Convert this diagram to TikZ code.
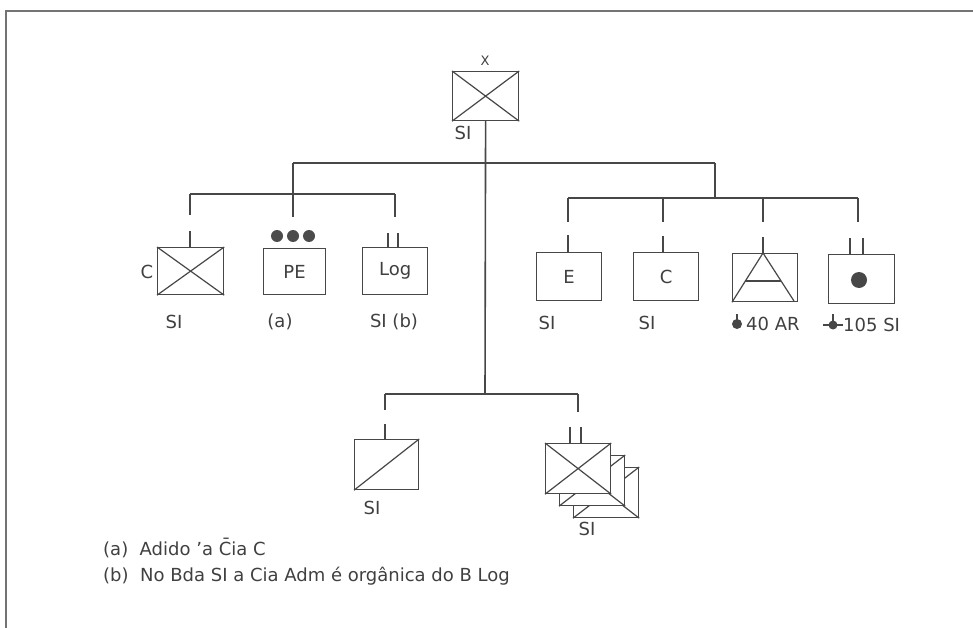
\documentclass[tikz,border=0pt]{standalone}
\usepackage{fontspec}
\setmainfont{DejaVu Sans}
\begin{document}
\begin{tikzpicture}[x=1pt,y=-1pt,
  ln/.style={draw=black!72,line width=1.2pt},
  unit/.style={ln,fill=white,minimum width=65pt,minimum height=48pt,inner sep=0pt,anchor=north west},
  lbl/.style={text=black!75,font=\fontsize{18}{21}\selectfont,inner sep=0pt},
  small/.style={text=black!75,font=\fontsize{13}{15}\selectfont,inner sep=0pt}]
\useasboundingbox (0,0) rectangle (973,628);
% frame
\draw[ln,draw=black!55] (6,628) -- (6,11) -- (973,11);

% top unit
\node[unit,minimum width=66pt,minimum height=49pt] (X) at (452,71) {};
\draw[ln] (X.north west) -- (X.south east) (X.north east) -- (X.south west);
\node[small] (Xl) at (485,61) {X};
\node[lbl] (Xs) at (463,133) {SI};

% coordinates of bars
\coordinate (bl) at (293,163);
\coordinate (br) at (715,163);
\coordinate (lbL) at (190,194);
\coordinate (lbR) at (395,194);
\coordinate (rb) at (715,198);
\coordinate (rbL) at (568,198);
\coordinate (rbR) at (858,198);
\coordinate (bb) at (485,394);
\coordinate (bbL) at (385,394);
\coordinate (bbR) at (578,394);

\draw[ln,line width=1.6pt] (X.south) -- (bb);
\draw[ln] (bl) -- (br);
\draw[ln] (bl) -- (293,217);
\draw[ln] (lbL) -- (lbR);
\draw[ln] (lbL) -- (190,215);
\draw[ln] (lbR) -- (395,217);
\draw[ln] (br) -- (rb);
\draw[ln] (rbL) -- (rbR);
\draw[ln] (rbL) -- (568,222);
\draw[ln] (663,198) -- (663,222);
\draw[ln] (763,198) -- (763,222);
\draw[ln] (rbR) -- (858,222);
\draw[ln] (bbL) -- (bbR);
\draw[ln,line width=2pt] (bbL) -- (385,410);
\draw[ln] (bbR) -- (578,412);

% left group
\node[unit,minimum width=66pt,minimum height=47pt] (C1) at (157,247) {};
\draw[ln] (C1.north west) -- (C1.south east) (C1.north east) -- (C1.south west);
\draw[ln] (190,231) -- (190,247);
\node[lbl] (C1c) at (147,272) {C};
\node[lbl] (C1s) at (174,322) {SI};

\node[unit,minimum width=62pt,minimum height=46pt] (PE) at (263,248) {};
\node[lbl] (PEt) at (PE.center) {PE};
\foreach \i/\xx in {1/277,2/293,3/309}
  \fill[black!70] (\xx,236) circle (6pt);
\node[lbl] (PEa) at (280,322) {(a)};

\node[unit,minimum width=65pt,minimum height=47pt] (LG) at (362,247) {};
\node[lbl] (LGt) at (LG.center) {Log};
\draw[ln] (388,233) -- (388,247) (398,233) -- (398,247);
\node[lbl] (LGs) at (394,322) {SI (b)};

% right group
\node[unit] (E) at (536,252) {};
\node[lbl] (Et) at (E.center) {E};
\draw[ln] (568,235) -- (568,252);
\node[lbl] (Es) at (547,323) {SI};

\node[unit] (C2) at (633,252) {};
\node[lbl] (C2t) at (C2.center) {C};
\draw[ln] (663,236) -- (663,252);
\node[lbl] (C2s) at (647,323) {SI};

\node[unit] (AR) at (732,253) {};
\draw[ln] (AR.south west) -- (763,253) -- (794,301);
\draw[ln] (745,281) -- (781,281);
\draw[ln] (763,237) -- (763,253);
\fill[black!72] (737,324) circle (5pt);
\draw[ln] (737,314) -- (737,322);
\node[lbl,anchor=west] (ARs) at (746,324) {40 AR};

\node[unit,minimum width=66pt,minimum height=49pt] (DT) at (828,254) {};
\fill[black!72] (859,280) circle (8pt);
\draw[ln] (850,238) -- (850,254) (863,238) -- (863,254);
\fill[black!72] (833,325) circle (4.5pt);
\draw[ln] (823,325) -- (843,325) (833,314) -- (833,322);
\node[lbl,anchor=west] (DTs) at (843,325) {105 SI};

% bottom group
\node[unit,minimum width=64pt,minimum height=50pt] (BL) at (354,439) {};
\draw[ln] (BL.south west) -- (BL.north east);
\draw[ln,line width=2pt] (385,424) -- (385,439);
\node[lbl] (BLs) at (372,508) {SI};

\foreach \dx/\dy/\nm in {28/24/B3,14/12/B2,0/0/B1}{
  \node[unit,minimum width=65pt,minimum height=50pt] (\nm) at (545+\dx,443+\dy) {};
  \draw[ln] (\nm.north west) -- (\nm.south east) (\nm.north east) -- (\nm.south west);
}
\draw[ln] (570,427) -- (570,443) (581,427) -- (581,443);
\node[lbl] (BRs) at (587,529) {SI};

% notes
\node[lbl,anchor=west] (n1) at (103,548) {(a)\ \ Adido ʼa C̄ia C};
\node[lbl,anchor=west] (n2) at (103,576) {(b)\ \ No Bda SI a Cia Adm é orgânica do B Log};
\end{tikzpicture}
\end{document}
